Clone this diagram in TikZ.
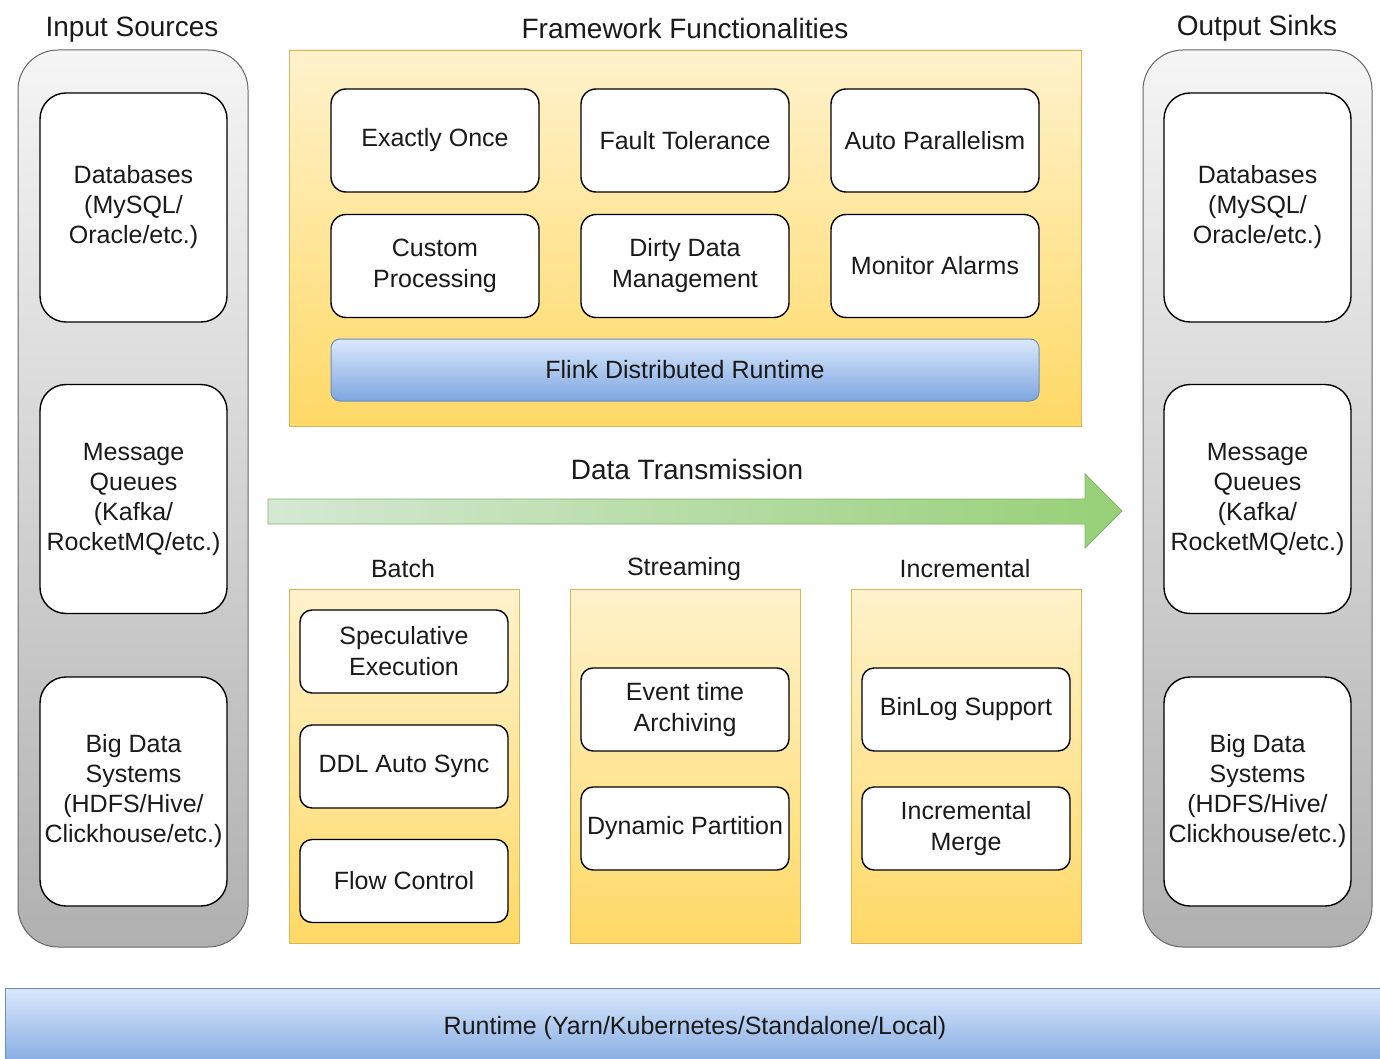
\documentclass[tikz,border=0pt]{standalone}
\usepackage{fontspec}
\setmainfont{Liberation Sans}
\definecolor{txt}{HTML}{1A1A1A}
\definecolor{grayT}{HTML}{F5F5F5}
\definecolor{grayB}{HTML}{B0B0B0}
\definecolor{grayS}{HTML}{666666}
\definecolor{yelT}{HTML}{FFF2CC}
\definecolor{yelB}{HTML}{FFD966}
\definecolor{yelS}{HTML}{D6B656}
\definecolor{bluT}{HTML}{DAE8FC}
\definecolor{bluB}{HTML}{7EA6E0}
\definecolor{bluS}{HTML}{6C8EBF}
\definecolor{grnL}{HTML}{D5E8D4}
\definecolor{grnR}{HTML}{97D077}
\definecolor{grnS}{HTML}{82B366}
\begin{document}
\begin{tikzpicture}[x=1pt,y=-1pt,
  every node/.style={text=txt},
  title/.style={font=\fontsize{28}{32}\selectfont},
  subtitle/.style={font=\fontsize{25}{28}\selectfont},
  graycont/.style={draw=grayS, line width=1pt, top color=grayT, bottom color=grayB, rounded corners=40pt},
  yelcont/.style={draw=yelS, line width=0.8pt, top color=yelT, bottom color=yelB},
  tallbox/.style={draw=black, line width=1.4pt, fill=white, rounded corners=26pt, align=center, inner sep=0pt,
     minimum width=187pt, minimum height=229pt, font=\fontsize{25}{30}\selectfont},
  fbox/.style={draw=black, line width=1.4pt, fill=white, rounded corners=15pt, align=center, inner sep=0pt,
     minimum width=208pt, minimum height=103pt, font=\fontsize{25}{31}\selectfont},
  sbox/.style={draw=black, line width=1.4pt, fill=white, rounded corners=12pt, align=center, inner sep=0pt,
     minimum width=208pt, minimum height=83pt, font=\fontsize{25}{31}\selectfont},
  bluebar/.style={draw=bluS, line width=1pt, top color=bluT, bottom color=bluB, align=center, inner sep=0pt,
     font=\fontsize{25}{28}\selectfont}]
\useasboundingbox (0,0) rectangle (1380,1059);
\fill[white] (0,0) rectangle (1380,1059);

% titles
\node[title] (tin) at (132,30) {Input Sources};
\node[title] (tfw) at (685,28) {Framework Functionalities};
\node[title] (tout) at (1257,28) {Output Sinks};

% input container
\node[graycont, minimum width=230pt, minimum height=897pt] (insrc) at (133,498.5) {};
\node[tallbox] (idb) at (133.5,207.5) {Databases\\(MySQL/\\Oracle/etc.)};
\node[tallbox] (imq) at (133.5,499) {Message\\Queues\\(Kafka/\\RocketMQ/etc.)};
\node[tallbox] (ibd) at (133.5,791.5) {Big Data\\Systems\\(HDFS/Hive/\\Clickhouse/etc.)};

% output container
\node[graycont, minimum width=229pt, minimum height=897pt] (outsnk) at (1257.5,498.5) {};
\node[tallbox] (odb) at (1257.5,207.5) {Databases\\(MySQL/\\Oracle/etc.)};
\node[tallbox] (omq) at (1257.5,499) {Message\\Queues\\(Kafka/\\RocketMQ/etc.)};
\node[tallbox] (obd) at (1257.5,791.5) {Big Data\\Systems\\(HDFS/Hive/\\Clickhouse/etc.)};

% framework
\node[yelcont, minimum width=792pt, minimum height=376pt] (fw) at (685,238) {};
\node[fbox] (f1) at (435,140.5) {Exactly Once};
\node[fbox] (f2) at (685,140.5) {Fault Tolerance};
\node[fbox] (f3) at (935,140.5) {Auto Parallelism};
\node[fbox] (f4) at (435,266) {Custom\\Processing};
\node[fbox] (f5) at (685,266) {Dirty Data\\Management};
\node[fbox] (f6) at (935,266) {Monitor Alarms};
\node[bluebar, rounded corners=9pt, minimum width=708pt, minimum height=62pt] (flink) at (685,370) {Flink Distributed Runtime};

% data transmission arrow
\path[draw=grnS, line width=0.8pt, left color=grnL, right color=grnR]
  (268,499) -- (1085,499) -- (1085,474) -- (1122,511) -- (1085,548) -- (1085,524) -- (268,524) -- cycle;
\node[title] (tdt) at (687,469) {Data Transmission};

% batch / streaming / incremental
\node[subtitle] (tb) at (403,569) {Batch};
\node[subtitle] (ts) at (684,569) {Streaming};
\node[subtitle] (ti) at (965,569) {Incremental};
\node[yelcont, minimum width=230pt, minimum height=354pt] (cb) at (404,766) {};
\node[yelcont, minimum width=230pt, minimum height=354pt] (cs) at (685,766) {};
\node[yelcont, minimum width=230pt, minimum height=354pt] (ci) at (966,766) {};

\node[sbox] (b1) at (404,651.5) {Speculative\\Execution};
\node[sbox] (b2) at (404,766.5) {DDL Auto Sync};
\node[sbox] (b3) at (404,881) {Flow Control};
\node[sbox] (s1) at (685,709.5) {Event time\\Archiving};
\node[sbox] (s2) at (685,828.5) {Dynamic Partition};
\node[sbox] (n1) at (966,709.5) {BinLog Support};
\node[sbox] (n2) at (966,828.5) {Incremental\\Merge};

% runtime bar
\node[bluebar, minimum width=1380pt, minimum height=82pt] (rt) at (695,1029) {};
\node[font=\fontsize{25}{28}\selectfont] (rtt) at (695,1028) {Runtime (Yarn/Kubernetes/Standalone/Local)};
\end{tikzpicture}
\end{document}
